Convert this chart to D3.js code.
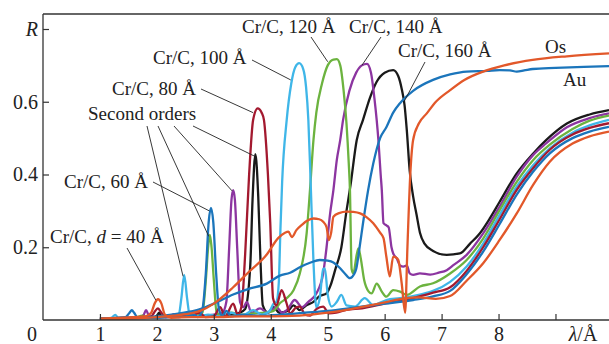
<!DOCTYPE html>
<html>
<head>
<meta charset="utf-8">
<script src="https://cdn.jsdelivr.net/npm/d3@7"></script>
<style>
  body { margin: 0; background: #fff; }
  svg { display: block; font-family: "Liberation Serif", "DejaVu Serif", serif; }
</style>
</head>
<body>
<svg id="chart" width="609" height="344"></svg>
<script>
// reflectivity curves, [lambda (Å), R]
const crc40 = [[1.0,0.004],[1.3,0.006],[1.6,0.008],[1.8,0.01],[1.9,0.02],[1.96,0.045],[2.02,0.057],[2.08,0.045],[2.14,0.015],[2.25,0.006],[2.6,0.008],[3.0,0.008],[3.5,0.01],[4.0,0.01],[4.5,0.012],[5.0,0.02],[5.4,0.03],[5.9,0.045],[6.3,0.058],[6.6,0.062],[6.9,0.058],[7.15,0.066],[7.44,0.108],[7.73,0.156],[8.02,0.22],[8.32,0.293],[8.61,0.372],[8.9,0.435],[9.3,0.485],[9.6,0.505],[9.94,0.518]];
const crc60 = [[1.0,0.004],[1.3,0.006],[1.45,0.008],[1.52,0.02],[1.56,0.027],[1.6,0.02],[1.66,0.007],[1.9,0.006],[2.2,0.008],[2.5,0.01],[2.65,0.015],[2.72,0.008],[2.8,0.03],[2.86,0.13],[2.91,0.27],[2.95,0.308],[2.99,0.27],[3.04,0.13],[3.09,0.03],[3.15,0.012],[3.22,0.025],[3.3,0.01],[3.5,0.015],[3.8,0.012],[4.2,0.015],[4.6,0.02],[5.0,0.025],[5.5,0.035],[6.0,0.045],[6.5,0.055],[6.85,0.065],[7.15,0.08],[7.44,0.126],[7.73,0.188],[8.02,0.264],[8.32,0.345],[8.61,0.408],[8.9,0.458],[9.3,0.5],[9.6,0.518],[9.94,0.531]];
const crc80 = [[1.0,0.004],[1.4,0.006],[1.7,0.008],[1.9,0.01],[1.97,0.025],[2.02,0.032],[2.07,0.022],[2.15,0.008],[2.4,0.01],[2.6,0.012],[2.75,0.02],[2.85,0.008],[3.0,0.01],[3.11,0.035],[3.2,0.01],[3.34,0.045],[3.42,0.015],[3.49,0.04],[3.55,0.18],[3.62,0.4],[3.69,0.55],[3.77,0.582],[3.84,0.57],[3.88,0.55],[3.95,0.4],[3.99,0.27],[4.04,0.06],[4.1,0.04],[4.19,0.082],[4.27,0.05],[4.34,0.018],[4.45,0.035],[4.51,0.037],[4.6,0.015],[4.69,0.012],[4.8,0.03],[4.92,0.037],[5.02,0.018],[5.15,0.02],[5.33,0.028],[5.6,0.032],[6.0,0.045],[6.5,0.06],[6.85,0.075],[7.15,0.09],[7.44,0.135],[7.73,0.2],[8.02,0.277],[8.32,0.358],[8.61,0.418],[8.9,0.468],[9.3,0.51],[9.6,0.528],[9.94,0.541]];
const crc100 = [[1.0,0.004],[1.2,0.006],[1.27,0.014],[1.32,0.006],[1.6,0.006],[1.9,0.008],[2.2,0.01],[2.38,0.012],[2.43,0.06],[2.48,0.124],[2.53,0.06],[2.58,0.012],[2.75,0.01],[2.9,0.015],[3.11,0.01],[3.3,0.02],[3.5,0.012],[3.69,0.027],[3.85,0.015],[3.98,0.025],[4.05,0.045],[4.1,0.05],[4.14,0.1],[4.17,0.25],[4.2,0.38],[4.28,0.55],[4.36,0.65],[4.43,0.695],[4.5,0.706],[4.57,0.69],[4.62,0.64],[4.66,0.55],[4.7,0.38],[4.75,0.16],[4.8,0.035],[4.86,0.06],[4.92,0.14],[4.95,0.142],[5.0,0.07],[5.07,0.037],[5.16,0.05],[5.24,0.069],[5.33,0.04],[5.48,0.037],[5.65,0.06],[5.8,0.041],[6.03,0.055],[6.27,0.06],[6.62,0.07],[6.85,0.08],[7.15,0.105],[7.44,0.147],[7.73,0.21],[8.02,0.289],[8.32,0.367],[8.61,0.426],[8.9,0.472],[9.3,0.515],[9.6,0.535],[9.94,0.55]];
const crc120 = [[1.0,0.004],[1.3,0.005],[1.6,0.006],[1.75,0.012],[1.8,0.006],[2.1,0.008],[2.4,0.01],[2.7,0.012],[2.8,0.02],[2.86,0.11],[2.9,0.2],[2.93,0.234],[2.96,0.2],[3.0,0.11],[3.05,0.02],[3.15,0.012],[3.3,0.02],[3.5,0.015],[3.7,0.018],[3.9,0.02],[4.05,0.025],[4.16,0.046],[4.28,0.06],[4.4,0.082],[4.51,0.128],[4.63,0.238],[4.69,0.36],[4.75,0.495],[4.8,0.57],[4.9,0.65],[5.0,0.7],[5.1,0.716],[5.16,0.717],[5.22,0.7],[5.28,0.63],[5.33,0.54],[5.37,0.43],[5.39,0.36],[5.42,0.14],[5.45,0.128],[5.51,0.18],[5.54,0.197],[5.58,0.17],[5.64,0.11],[5.72,0.078],[5.77,0.073],[5.86,0.1],[5.95,0.078],[6.03,0.064],[6.15,0.082],[6.27,0.078],[6.39,0.069],[6.62,0.092],[6.85,0.101],[7.15,0.128],[7.44,0.165],[7.73,0.224],[8.02,0.302],[8.32,0.38],[8.61,0.44],[8.9,0.482],[9.3,0.525],[9.6,0.548],[9.94,0.562]];
const crc140 = [[1.0,0.004],[1.4,0.005],[1.7,0.006],[1.77,0.015],[1.81,0.027],[1.85,0.015],[1.9,0.006],[2.2,0.008],[2.3,0.016],[2.37,0.008],[2.6,0.01],[2.8,0.012],[3.0,0.015],[3.15,0.02],[3.22,0.05],[3.27,0.2],[3.31,0.33],[3.34,0.357],[3.37,0.33],[3.41,0.2],[3.46,0.05],[3.52,0.035],[3.58,0.05],[3.66,0.02],[3.81,0.032],[3.95,0.02],[4.1,0.035],[4.2,0.02],[4.3,0.03],[4.42,0.055],[4.55,0.035],[4.66,0.05],[4.8,0.073],[4.92,0.128],[4.98,0.2],[5.04,0.29],[5.1,0.357],[5.16,0.44],[5.22,0.495],[5.27,0.55],[5.38,0.63],[5.5,0.68],[5.6,0.7],[5.69,0.704],[5.76,0.68],[5.82,0.61],[5.86,0.55],[5.89,0.495],[5.93,0.4],[5.95,0.357],[5.98,0.266],[6.03,0.26],[6.07,0.255],[6.12,0.2],[6.15,0.183],[6.21,0.17],[6.27,0.15],[6.33,0.147],[6.39,0.15],[6.44,0.128],[6.5,0.124],[6.62,0.128],[6.8,0.125],[6.95,0.13],[7.09,0.137],[7.2,0.15],[7.44,0.179],[7.73,0.238],[8.02,0.312],[8.32,0.394],[8.61,0.454],[8.84,0.486],[9.2,0.53],[9.6,0.555],[9.94,0.568]];
const crc160 = [[1.0,0.004],[1.5,0.005],[1.9,0.006],[2.0,0.012],[2.04,0.02],[2.08,0.01],[2.3,0.008],[2.6,0.01],[2.9,0.012],[3.1,0.012],[3.3,0.015],[3.45,0.02],[3.55,0.03],[3.64,0.15],[3.68,0.33],[3.73,0.456],[3.78,0.34],[3.82,0.16],[3.86,0.04],[3.95,0.02],[4.05,0.035],[4.15,0.02],[4.3,0.025],[4.4,0.04],[4.51,0.027],[4.62,0.04],[4.75,0.05],[4.86,0.066],[4.98,0.073],[5.05,0.095],[5.13,0.137],[5.24,0.2],[5.33,0.3],[5.4,0.37],[5.51,0.495],[5.62,0.55],[5.74,0.61],[5.86,0.655],[6.0,0.68],[6.15,0.687],[6.24,0.67],[6.3,0.635],[6.35,0.59],[6.39,0.52],[6.44,0.41],[6.5,0.34],[6.56,0.29],[6.62,0.24],[6.7,0.21],[6.85,0.19],[7.09,0.179],[7.32,0.183],[7.5,0.21],[7.67,0.238],[7.85,0.28],[8.02,0.325],[8.32,0.403],[8.61,0.458],[8.84,0.495],[9.2,0.54],[9.6,0.565],[9.94,0.577]];
const os = [[1.0,0.003],[1.5,0.004],[2.0,0.008],[2.3,0.012],[2.5,0.016],[2.76,0.025],[3.0,0.045],[3.34,0.09],[3.6,0.13],[3.93,0.18],[4.13,0.225],[4.25,0.24],[4.31,0.243],[4.37,0.228],[4.45,0.247],[4.55,0.262],[4.63,0.272],[4.75,0.279],[4.85,0.277],[4.92,0.27],[4.98,0.255],[5.02,0.22],[5.06,0.24],[5.1,0.284],[5.2,0.294],[5.33,0.298],[5.45,0.297],[5.57,0.293],[5.68,0.283],[5.8,0.266],[5.92,0.24],[5.98,0.225],[6.03,0.174],[6.09,0.12],[6.15,0.174],[6.2,0.172],[6.24,0.165],[6.3,0.1],[6.36,0.02],[6.4,0.2],[6.45,0.4],[6.5,0.495],[6.6,0.54],[6.74,0.568],[6.9,0.6],[7.15,0.632],[7.4,0.66],[7.73,0.683],[8.1,0.7],[8.6,0.715],[9.2,0.725],[9.94,0.733]];
const au = [[1.0,0.003],[1.5,0.005],[2.0,0.01],[2.4,0.018],[2.76,0.03],[3.0,0.045],[3.34,0.07],[3.6,0.085],[3.93,0.1],[4.16,0.122],[4.34,0.13],[4.51,0.145],[4.7,0.158],[4.86,0.165],[5.0,0.163],[5.1,0.158],[5.2,0.145],[5.3,0.128],[5.39,0.115],[5.46,0.125],[5.5,0.14],[5.56,0.2],[5.62,0.266],[5.71,0.357],[5.8,0.43],[5.92,0.5],[6.03,0.53],[6.15,0.57],[6.27,0.596],[6.5,0.63],[6.85,0.66],[7.15,0.675],[7.44,0.683],[7.8,0.685],[8.02,0.687],[8.2,0.686],[8.32,0.683],[8.45,0.686],[8.6,0.69],[9.0,0.693],[9.5,0.696],[9.94,0.698]];

const xTicks = [1, 2, 3, 4, 5, 6, 7, 8, 9];
const xTickLabels = ['1', '2', '3', '4', '5', '6', '7', '8', ''];
const yTicks = [0.2, 0.4, 0.6, 0.8];
const yTickLabels = ['0.2', '0.4', '0.6', 'R'];

const series = [
  { data: crc160, color: '#1a1a1a' },
  { data: crc140, color: '#8c35a0' },
  { data: crc120, color: '#6cb33f' },
  { data: crc100, color: '#3fb6e8' },
  { data: crc80, color: '#a3192f' },
  { data: crc60, color: '#1b75bb' },
  { data: au, color: '#1b75bb' },
  { data: crc40, color: '#e2582a' },
  { data: os, color: '#e2582a' }
];

const margin = { left: 43, top: 14, right: 0, bottom: 24 };
const width = 609, height = 344;

const svg = d3.select('#chart');

const x = d3.scaleLinear().domain([0, 9.94]).range([margin.left, width - margin.right]);
const y = d3.scaleLinear().domain([0, 0.8]).range([320, 29]);

svg.append('clipPath').attr('id', 'plot')
  .append('rect')
  .attr('x', margin.left).attr('y', margin.top)
  .attr('width', width - margin.left).attr('height', 320 - margin.top);

const line = d3.line()
  .x(d => x(d[0]))
  .y(d => y(d[1]))
  .curve(d3.curveMonotoneX);

svg.append('g')
  .attr('clip-path', 'url(#plot)')
  .selectAll('path')
  .data(series)
  .enter()
  .append('path')
  .attr('d', d => line(d.data))
  .attr('fill', 'none')
  .attr('stroke', d => d.color)
  .attr('stroke-width', 2.3)
  .attr('stroke-linejoin', 'round');

// frame
svg.append('line')
  .attr('x1', margin.left).attr('x2', width)
  .attr('y1', margin.top).attr('y2', margin.top)
  .attr('stroke', '#333').attr('stroke-width', 1.3);

const xAxis = svg.append('g')
  .attr('transform', 'translate(0,320)')
  .call(d3.axisBottom(x).tickValues(xTicks).tickSize(-6).tickPadding(7)
    .tickFormat((d, i) => xTickLabels[i]));

const yAxis = svg.append('g')
  .attr('transform', `translate(${margin.left},0)`)
  .call(d3.axisLeft(y).tickValues(yTicks).tickSize(-6).tickPadding(5)
    .tickFormat((d, i) => yTickLabels[i]));

[xAxis, yAxis].forEach(g => {
  g.select('.domain').attr('stroke', '#333').attr('stroke-width', 1.3);
  g.selectAll('.tick line').attr('stroke', '#333').attr('stroke-width', 1.2);
  g.selectAll('.tick text')
    .attr('fill', '#222')
    .style('font-family', '"Liberation Serif", serif')
    .style('font-size', '20px');
});
yAxis.select('.domain').attr('d', `M0,${margin.top}V320`);
xAxis.select('.domain').attr('d', `M${margin.left},0H${width}`);
yAxis.selectAll('.tick text').filter(d => d === 0.8).style('font-style', 'italic');

svg.append('text')
  .attr('x', 32).attr('y', 341)
  .attr('text-anchor', 'middle')
  .style('font-size', '20px').attr('fill', '#222')
  .text('0');

const xLabel = svg.append('text')
  .attr('x', 583).attr('y', 341)
  .attr('text-anchor', 'middle')
  .style('font-size', '20px').attr('fill', '#222');
xLabel.append('tspan').style('font-style', 'italic').text('λ');
xLabel.append('tspan').text('/Å');

// callouts: text position in px, leader target in data units
const callouts = [
  { text: 'Cr/C, 120 Å', tx: 242, ty: 33, from: [311, 37], to: [5.0, 0.71] },
  { text: 'Cr/C, 140 Å', tx: 349, ty: 33, from: [381, 37], to: [5.6, 0.7] },
  { text: 'Cr/C, 160 Å', tx: 398, ty: 57, from: [425, 62], to: [6.34, 0.6] },
  { text: 'Cr/C, 100 Å', tx: 153, ty: 64, from: [252, 60], to: [4.35, 0.66] },
  { text: 'Cr/C, 80 Å', tx: 112, ty: 95, from: [201, 89], to: [3.69, 0.57] },
  { text: 'Cr/C, 60 Å', tx: 64, ty: 188, from: [153, 182], to: [2.92, 0.3] },
  { text: null, tx: 50, ty: 243, from: [127, 248], to: [1.98, 0.055] }
];

const seconds = [
  { from: [147, 126], to: [2.46, 0.12] },
  { from: [158, 126], to: [2.91, 0.23] },
  { from: [174, 126], to: [3.32, 0.355] },
  { from: [193, 126], to: [3.72, 0.45] }
];

const notes = svg.append('g')
  .style('font-size', '19px')
  .attr('fill', '#222');

notes.selectAll('line.callout')
  .data(callouts.concat(seconds))
  .enter()
  .append('line')
  .attr('x1', d => d.from[0]).attr('y1', d => d.from[1])
  .attr('x2', d => x(d.to[0])).attr('y2', d => y(d.to[1]))
  .attr('stroke', '#222').attr('stroke-width', 0.9);

notes.selectAll('text.callout')
  .data(callouts.filter(d => d.text))
  .enter()
  .append('text')
  .attr('x', d => d.tx).attr('y', d => d.ty)
  .text(d => d.text);

const d40 = notes.append('text').attr('x', 50).attr('y', 243);
d40.append('tspan').text('Cr/C, ');
d40.append('tspan').style('font-style', 'italic').text('d');
d40.append('tspan').text(' = 40 Å');

notes.append('text').attr('x', 88).attr('y', 120).text('Second orders');
notes.append('text').attr('x', 545).attr('y', 53).text('Os');
notes.append('text').attr('x', 563).attr('y', 86).text('Au');
</script>
</body>
</html>
